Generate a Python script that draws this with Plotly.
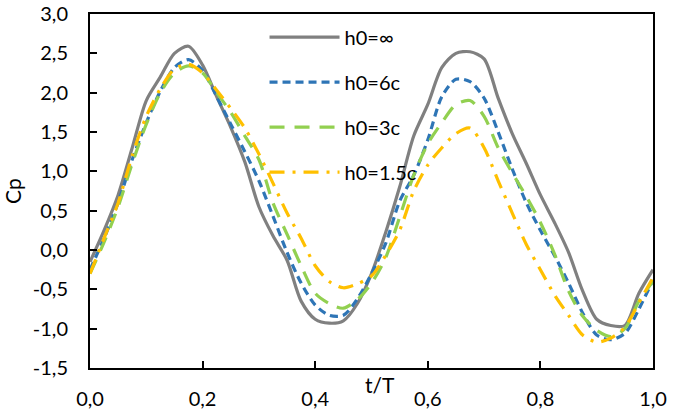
import plotly.graph_objects as go

t = [0.0, 0.025, 0.05, 0.075, 0.1, 0.125, 0.15, 0.175, 0.2, 0.225, 0.25, 0.275, 0.3, 0.325, 0.35,
     0.375, 0.4, 0.425, 0.45, 0.475, 0.5, 0.525, 0.55, 0.575, 0.6, 0.625, 0.65, 0.675, 0.7, 0.725,
     0.75, 0.775, 0.8, 0.825, 0.85, 0.875, 0.9, 0.925, 0.95, 0.975, 1.0]

cp_inf = [-0.15, 0.25, 0.7, 1.3, 1.9, 2.2, 2.5, 2.59, 2.35, 1.95, 1.56, 1.12, 0.55, 0.18, -0.13,
          -0.65, -0.88, -0.93, -0.9, -0.68, -0.3, 0.22, 0.8, 1.45, 1.85, 2.32, 2.5, 2.52, 2.43, 1.93,
          1.48, 1.1, 0.7, 0.35, -0.03, -0.52, -0.88, -0.96, -0.96, -0.55, -0.25]

cp_6c = [-0.25, 0.15, 0.6, 1.15, 1.62, 2.02, 2.32, 2.42, 2.28, 1.95, 1.6, 1.25, 0.88, 0.43, -0.03,
         -0.42, -0.7, -0.83, -0.83, -0.62, -0.3, 0.08, 0.62, 0.95, 1.4, 1.95, 2.17, 2.14, 1.93, 1.5,
         1.03, 0.6, 0.25, -0.07, -0.42, -0.8, -1.08, -1.14, -1.06, -0.75, -0.38]

cp_3c = [-0.3, 0.1, 0.55, 1.1, 1.6, 2.0, 2.25, 2.34, 2.25, 2.0, 1.75, 1.45, 1.15, 0.6, 0.2,
         -0.2, -0.55, -0.68, -0.74, -0.63, -0.42, -0.1, 0.42, 0.95, 1.35, 1.62, 1.85, 1.9, 1.7, 1.3,
         0.98, 0.68, 0.35, -0.05, -0.52, -0.84, -1.02, -1.1, -1.0, -0.65, -0.4]

cp_15c = [-0.3, 0.15, 0.6, 1.2, 1.7, 2.05, 2.3, 2.36, 2.25, 2.03, 1.8, 1.55, 1.22, 0.85, 0.47,
          0.15, -0.2, -0.4, -0.48, -0.43, -0.33, -0.07, 0.25, 0.75, 1.08, 1.3, 1.48, 1.55, 1.3, 0.88,
          0.47, 0.07, -0.25, -0.57, -0.83, -1.08, -1.17, -1.12, -0.98, -0.67, -0.35]

names = ["h0=∞", "h0=6c", "h0=3c", "h0=1.5c"]
x_ticks = [0.0, 0.2, 0.4, 0.6, 0.8, 1.0]
x_tick_labels = ["0,0", "0,2", "0,4", "0,6", "0,8", "1,0"]
y_ticks = [-1.5, -1.0, -0.5, 0.0, 0.5, 1.0, 1.5, 2.0, 2.5, 3.0]
y_tick_labels = ["-1,5", "-1,0", "-0,5", "0,0", "0,5", "1,0", "1,5", "2,0", "2,5", "3,0"]

series = [cp_inf, cp_6c, cp_3c, cp_15c]
colors = ["#808080", "#2E75B6", "#92D050", "#FFC000"]
dashes = ["solid", "8px,5px", "15px,10px", "15px,8px,3px,8px"]

FONT = "Lato"
fig = go.Figure()
for i, (vals, nm, c, d) in enumerate(zip(series, names, colors, dashes)):
    fig.add_trace(go.Scatter(
        x=t, y=vals, name=nm, mode="lines",
        line=dict(color=c, width=3.2, dash=d, shape="spline", smoothing=0.8),
        legendgroup=f"g{i}",
    ))

fig.update_layout(
    width=683, height=414,
    margin=dict(l=90, r=30, t=14, b=46),
    paper_bgcolor="white", plot_bgcolor="white",
    font=dict(family=FONT, size=20, color="black"),
    showlegend=True,
    legend=dict(
        x=0.31, y=0.99, xanchor="left", yanchor="top",
        bgcolor="rgba(0,0,0,0)", font=dict(size=20),
        tracegroupgap=16, itemwidth=70,
    ),
    xaxis=dict(
        range=[0, 1], tickvals=x_ticks, ticktext=x_tick_labels, automargin=False,
        showgrid=False, zeroline=False, showline=True, linecolor="black", linewidth=2,
        mirror=True, ticks="inside", ticklen=7, tickwidth=1.5, tickcolor="black",
        ticklabelstandoff=12, ticklabeloverflow="allow",
    ),
    yaxis=dict(
        range=[-1.5, 3.0], tickvals=y_ticks, ticktext=y_tick_labels, automargin=False,
        showgrid=False, zeroline=False, showline=True, linecolor="black", linewidth=2,
        mirror=True, ticks="inside", ticklen=7, tickwidth=1.5, tickcolor="black",
        ticklabelstandoff=16, ticklabeloverflow="allow",
        title=dict(text="Cp", standoff=8, font=dict(size=21)),
    ),
    annotations=[dict(
        text="t/T", xref="paper", yref="paper", x=0.515, y=-0.005,
        xanchor="center", yanchor="top", showarrow=False, font=dict(size=21),
    )],
)

# remove the default page margin so the figure fills the window exactly
fig.write_html("out.html", config={"displayModeBar": False},
               post_script="document.body.style.margin='0px';")
